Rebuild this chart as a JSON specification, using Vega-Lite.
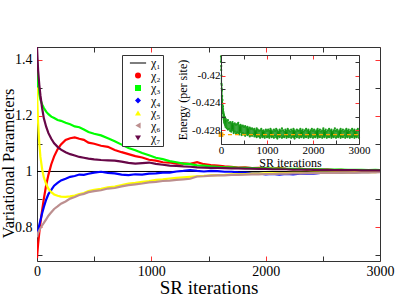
{
"$schema":"https://vega.github.io/schema/vega-lite/v6.json",
"width":343,"height":214,
"autosize":{"type":"none"},
"padding":{"left":37,"top":47,"right":19,"bottom":47},
"config":{"font":"Liberation Serif","view":{"stroke":null},"axis":{"grid":false,"domainColor":"#333333","domainWidth":1,"labelFont":"Liberation Serif","titleFont":"Liberation Serif","labelColor":"black","titleColor":"black","titleFontWeight":"normal","labelOverlap":false,"labelFlush":false,"labelBound":false},
"legend":{"labelFont":"Liberation Serif","strokeColor":"#333333","fillColor":"white","padding":2,"symbolSize":36,"symbolStrokeWidth":0,"labelFontSize":12,"rowPadding":0.5,"labelOffset":7,"symbolOffset":8,"symbolOpacity":1,"cornerRadius":0}},
"datasets":{
"chi1":[{"s":"χ₁","it":0,"v":1},{"s":"χ₁","it":3000,"v":1}],
"legend":[{"s":"χ₁"},{"s":"χ₂"},{"s":"χ₃"},{"s":"χ₄"},{"s":"χ₅"},{"s":"χ₆"},{"s":"χ₇"}],
"ref":[{"it":0,"e":-0.42863},{"it":3000,"e":-0.42863}],
"main":[
{"s":"χ₂","it":0,"v":0.690},{"s":"χ₂","it":5,"v":0.718},{"s":"χ₂","it":10,"v":0.742},{"s":"χ₂","it":20,"v":0.781},{"s":"χ₂","it":30,"v":0.816},{"s":"χ₂","it":45,"v":0.862},{"s":"χ₂","it":60,"v":0.903},{"s":"χ₂","it":80,"v":0.951},{"s":"χ₂","it":100,"v":0.988},{"s":"χ₂","it":125,"v":1.026},{"s":"χ₂","it":150,"v":1.054},{"s":"χ₂","it":180,"v":1.079},{"s":"χ₂","it":210,"v":1.097},{"s":"χ₂","it":250,"v":1.113},{"s":"χ₂","it":290,"v":1.119},{"s":"χ₂","it":330,"v":1.122},{"s":"χ₂","it":370,"v":1.117},{"s":"χ₂","it":410,"v":1.113},{"s":"χ₂","it":450,"v":1.103},{"s":"χ₂","it":500,"v":1.099},{"s":"χ₂","it":560,"v":1.092},{"s":"χ₂","it":620,"v":1.088},{"s":"χ₂","it":680,"v":1.077},{"s":"χ₂","it":740,"v":1.069},{"s":"χ₂","it":800,"v":1.062},{"s":"χ₂","it":860,"v":1.055},{"s":"χ₂","it":920,"v":1.050},{"s":"χ₂","it":980,"v":1.042},{"s":"χ₂","it":1040,"v":1.039},{"s":"χ₂","it":1100,"v":1.033},{"s":"χ₂","it":1160,"v":1.032},{"s":"χ₂","it":1220,"v":1.028},{"s":"χ₂","it":1280,"v":1.029},{"s":"χ₂","it":1340,"v":1.027},{"s":"χ₂","it":1400,"v":1.033},{"s":"χ₂","it":1460,"v":1.026},{"s":"χ₂","it":1520,"v":1.023},{"s":"χ₂","it":1580,"v":1.021},{"s":"χ₂","it":1640,"v":1.018},{"s":"χ₂","it":1700,"v":1.017},{"s":"χ₂","it":1760,"v":1.014},{"s":"χ₂","it":1820,"v":1.015},{"s":"χ₂","it":1880,"v":1.012},{"s":"χ₂","it":1940,"v":1.013},{"s":"χ₂","it":2000,"v":1.011},{"s":"χ₂","it":2060,"v":1.010},{"s":"χ₂","it":2120,"v":1.012},{"s":"χ₂","it":2180,"v":1.009},{"s":"χ₂","it":2240,"v":1.008},{"s":"χ₂","it":2300,"v":1.010},{"s":"χ₂","it":2360,"v":1.007},{"s":"χ₂","it":2420,"v":1.008},{"s":"χ₂","it":2480,"v":1.006},{"s":"χ₂","it":2540,"v":1.007},{"s":"χ₂","it":2600,"v":1.005},{"s":"χ₂","it":2660,"v":1.006},{"s":"χ₂","it":2720,"v":1.004},{"s":"χ₂","it":2780,"v":1.005},{"s":"χ₂","it":2840,"v":1.003},{"s":"χ₂","it":2900,"v":1.004},{"s":"χ₂","it":2960,"v":1.003},{"s":"χ₂","it":3000,"v":1.003},
{"s":"χ₃","it":0,"v":1.400},{"s":"χ₃","it":5,"v":1.345},{"s":"χ₃","it":10,"v":1.305},{"s":"χ₃","it":20,"v":1.276},{"s":"χ₃","it":30,"v":1.257},{"s":"χ₃","it":45,"v":1.240},{"s":"χ₃","it":60,"v":1.227},{"s":"χ₃","it":80,"v":1.214},{"s":"χ₃","it":100,"v":1.205},{"s":"χ₃","it":125,"v":1.196},{"s":"χ₃","it":150,"v":1.191},{"s":"χ₃","it":180,"v":1.184},{"s":"χ₃","it":210,"v":1.181},{"s":"χ₃","it":250,"v":1.174},{"s":"χ₃","it":290,"v":1.169},{"s":"χ₃","it":330,"v":1.161},{"s":"χ₃","it":370,"v":1.158},{"s":"χ₃","it":410,"v":1.150},{"s":"χ₃","it":450,"v":1.141},{"s":"χ₃","it":500,"v":1.135},{"s":"χ₃","it":560,"v":1.129},{"s":"χ₃","it":620,"v":1.119},{"s":"χ₃","it":680,"v":1.108},{"s":"χ₃","it":740,"v":1.096},{"s":"χ₃","it":800,"v":1.084},{"s":"χ₃","it":860,"v":1.076},{"s":"χ₃","it":920,"v":1.066},{"s":"χ₃","it":980,"v":1.058},{"s":"χ₃","it":1040,"v":1.049},{"s":"χ₃","it":1100,"v":1.044},{"s":"χ₃","it":1160,"v":1.037},{"s":"χ₃","it":1220,"v":1.033},{"s":"χ₃","it":1280,"v":1.028},{"s":"χ₃","it":1340,"v":1.026},{"s":"χ₃","it":1400,"v":1.022},{"s":"χ₃","it":1460,"v":1.021},{"s":"χ₃","it":1520,"v":1.018},{"s":"χ₃","it":1580,"v":1.017},{"s":"χ₃","it":1640,"v":1.015},{"s":"χ₃","it":1700,"v":1.015},{"s":"χ₃","it":1760,"v":1.013},{"s":"χ₃","it":1820,"v":1.013},{"s":"χ₃","it":1880,"v":1.012},{"s":"χ₃","it":1940,"v":1.011},{"s":"χ₃","it":2000,"v":1.011},{"s":"χ₃","it":2060,"v":1.010},{"s":"χ₃","it":2120,"v":1.010},{"s":"χ₃","it":2180,"v":1.009},{"s":"χ₃","it":2240,"v":1.009},{"s":"χ₃","it":2300,"v":1.009},{"s":"χ₃","it":2360,"v":1.008},{"s":"χ₃","it":2420,"v":1.008},{"s":"χ₃","it":2480,"v":1.008},{"s":"χ₃","it":2540,"v":1.007},{"s":"χ₃","it":2600,"v":1.007},{"s":"χ₃","it":2660,"v":1.007},{"s":"χ₃","it":2720,"v":1.006},{"s":"χ₃","it":2780,"v":1.006},{"s":"χ₃","it":2840,"v":1.006},{"s":"χ₃","it":2900,"v":1.005},{"s":"χ₃","it":2960,"v":1.006},{"s":"χ₃","it":3000,"v":1.005},
{"s":"χ₄","it":0,"v":0.770},{"s":"χ₄","it":5,"v":0.779},{"s":"χ₄","it":10,"v":0.790},{"s":"χ₄","it":20,"v":0.809},{"s":"χ₄","it":30,"v":0.826},{"s":"χ₄","it":45,"v":0.851},{"s":"χ₄","it":60,"v":0.873},{"s":"χ₄","it":80,"v":0.899},{"s":"χ₄","it":100,"v":0.919},{"s":"χ₄","it":125,"v":0.934},{"s":"χ₄","it":150,"v":0.949},{"s":"χ₄","it":180,"v":0.959},{"s":"χ₄","it":210,"v":0.968},{"s":"χ₄","it":250,"v":0.974},{"s":"χ₄","it":290,"v":0.981},{"s":"χ₄","it":330,"v":0.984},{"s":"χ₄","it":370,"v":0.989},{"s":"χ₄","it":410,"v":0.988},{"s":"χ₄","it":450,"v":0.992},{"s":"χ₄","it":500,"v":0.996},{"s":"χ₄","it":560,"v":0.999},{"s":"χ₄","it":620,"v":0.995},{"s":"χ₄","it":680,"v":0.993},{"s":"χ₄","it":740,"v":0.989},{"s":"χ₄","it":800,"v":0.987},{"s":"χ₄","it":860,"v":0.990},{"s":"χ₄","it":920,"v":0.989},{"s":"χ₄","it":980,"v":0.992},{"s":"χ₄","it":1040,"v":0.993},{"s":"χ₄","it":1100,"v":0.996},{"s":"χ₄","it":1160,"v":0.996},{"s":"χ₄","it":1220,"v":1.000},{"s":"χ₄","it":1280,"v":1.002},{"s":"χ₄","it":1340,"v":1.005},{"s":"χ₄","it":1400,"v":1.002},{"s":"χ₄","it":1460,"v":1.000},{"s":"χ₄","it":1520,"v":1.002},{"s":"χ₄","it":1580,"v":1.001},{"s":"χ₄","it":1640,"v":0.999},{"s":"χ₄","it":1700,"v":0.999},{"s":"χ₄","it":1760,"v":0.997},{"s":"χ₄","it":1820,"v":0.996},{"s":"χ₄","it":1880,"v":0.993},{"s":"χ₄","it":1940,"v":0.993},{"s":"χ₄","it":2000,"v":0.990},{"s":"χ₄","it":2060,"v":0.991},{"s":"χ₄","it":2120,"v":0.989},{"s":"χ₄","it":2180,"v":0.991},{"s":"χ₄","it":2240,"v":0.990},{"s":"χ₄","it":2300,"v":0.992},{"s":"χ₄","it":2360,"v":0.993},{"s":"χ₄","it":2420,"v":0.992},{"s":"χ₄","it":2480,"v":0.995},{"s":"χ₄","it":2540,"v":0.995},{"s":"χ₄","it":2600,"v":0.996},{"s":"χ₄","it":2660,"v":0.996},{"s":"χ₄","it":2720,"v":0.997},{"s":"χ₄","it":2780,"v":0.997},{"s":"χ₄","it":2840,"v":0.998},{"s":"χ₄","it":2900,"v":0.998},{"s":"χ₄","it":2960,"v":0.999},{"s":"χ₄","it":3000,"v":0.999},
{"s":"χ₅","it":0,"v":1.300},{"s":"χ₅","it":5,"v":1.225},{"s":"χ₅","it":10,"v":1.172},{"s":"χ₅","it":20,"v":1.100},{"s":"χ₅","it":30,"v":1.052},{"s":"χ₅","it":45,"v":1.008},{"s":"χ₅","it":60,"v":0.979},{"s":"χ₅","it":80,"v":0.955},{"s":"χ₅","it":100,"v":0.938},{"s":"χ₅","it":125,"v":0.926},{"s":"χ₅","it":150,"v":0.918},{"s":"χ₅","it":180,"v":0.913},{"s":"χ₅","it":210,"v":0.910},{"s":"χ₅","it":250,"v":0.909},{"s":"χ₅","it":290,"v":0.911},{"s":"χ₅","it":330,"v":0.914},{"s":"χ₅","it":370,"v":0.919},{"s":"χ₅","it":410,"v":0.923},{"s":"χ₅","it":450,"v":0.930},{"s":"χ₅","it":500,"v":0.934},{"s":"χ₅","it":560,"v":0.938},{"s":"χ₅","it":620,"v":0.943},{"s":"χ₅","it":680,"v":0.946},{"s":"χ₅","it":740,"v":0.951},{"s":"χ₅","it":800,"v":0.957},{"s":"χ₅","it":860,"v":0.959},{"s":"χ₅","it":920,"v":0.963},{"s":"χ₅","it":980,"v":0.966},{"s":"χ₅","it":1040,"v":0.970},{"s":"χ₅","it":1100,"v":0.972},{"s":"χ₅","it":1160,"v":0.975},{"s":"χ₅","it":1220,"v":0.977},{"s":"χ₅","it":1280,"v":0.979},{"s":"χ₅","it":1340,"v":0.981},{"s":"χ₅","it":1400,"v":0.983},{"s":"χ₅","it":1460,"v":0.984},{"s":"χ₅","it":1520,"v":0.986},{"s":"χ₅","it":1580,"v":0.987},{"s":"χ₅","it":1640,"v":0.988},{"s":"χ₅","it":1700,"v":0.990},{"s":"χ₅","it":1760,"v":0.990},{"s":"χ₅","it":1820,"v":0.991},{"s":"χ₅","it":1880,"v":0.992},{"s":"χ₅","it":1940,"v":0.992},{"s":"χ₅","it":2000,"v":0.993},{"s":"χ₅","it":2060,"v":0.993},{"s":"χ₅","it":2120,"v":0.994},{"s":"χ₅","it":2180,"v":0.994},{"s":"χ₅","it":2240,"v":0.995},{"s":"χ₅","it":2300,"v":0.995},{"s":"χ₅","it":2360,"v":0.995},{"s":"χ₅","it":2420,"v":0.996},{"s":"χ₅","it":2480,"v":0.996},{"s":"χ₅","it":2540,"v":0.996},{"s":"χ₅","it":2600,"v":0.997},{"s":"χ₅","it":2660,"v":0.997},{"s":"χ₅","it":2720,"v":0.997},{"s":"χ₅","it":2780,"v":0.998},{"s":"χ₅","it":2840,"v":0.998},{"s":"χ₅","it":2900,"v":0.998},{"s":"χ₅","it":2960,"v":0.998},{"s":"χ₅","it":3000,"v":0.999},
{"s":"χ₆","it":0,"v":0.765},{"s":"χ₆","it":5,"v":0.774},{"s":"χ₆","it":10,"v":0.781},{"s":"χ₆","it":20,"v":0.790},{"s":"χ₆","it":30,"v":0.797},{"s":"χ₆","it":45,"v":0.807},{"s":"χ₆","it":60,"v":0.816},{"s":"χ₆","it":80,"v":0.829},{"s":"χ₆","it":100,"v":0.842},{"s":"χ₆","it":125,"v":0.854},{"s":"χ₆","it":150,"v":0.866},{"s":"χ₆","it":180,"v":0.875},{"s":"χ₆","it":210,"v":0.885},{"s":"χ₆","it":250,"v":0.893},{"s":"χ₆","it":290,"v":0.903},{"s":"χ₆","it":330,"v":0.909},{"s":"χ₆","it":370,"v":0.916},{"s":"χ₆","it":410,"v":0.920},{"s":"χ₆","it":450,"v":0.926},{"s":"χ₆","it":500,"v":0.930},{"s":"χ₆","it":560,"v":0.933},{"s":"χ₆","it":620,"v":0.939},{"s":"χ₆","it":680,"v":0.941},{"s":"χ₆","it":740,"v":0.947},{"s":"χ₆","it":800,"v":0.951},{"s":"χ₆","it":860,"v":0.954},{"s":"χ₆","it":920,"v":0.957},{"s":"χ₆","it":980,"v":0.961},{"s":"χ₆","it":1040,"v":0.963},{"s":"χ₆","it":1100,"v":0.966},{"s":"χ₆","it":1160,"v":0.967},{"s":"χ₆","it":1220,"v":0.970},{"s":"χ₆","it":1280,"v":0.972},{"s":"χ₆","it":1340,"v":0.974},{"s":"χ₆","it":1400,"v":0.982},{"s":"χ₆","it":1460,"v":0.983},{"s":"χ₆","it":1520,"v":0.985},{"s":"χ₆","it":1580,"v":0.986},{"s":"χ₆","it":1640,"v":0.986},{"s":"χ₆","it":1700,"v":0.988},{"s":"χ₆","it":1760,"v":0.988},{"s":"χ₆","it":1820,"v":0.989},{"s":"χ₆","it":1880,"v":0.990},{"s":"χ₆","it":1940,"v":0.990},{"s":"χ₆","it":2000,"v":0.991},{"s":"χ₆","it":2060,"v":0.991},{"s":"χ₆","it":2120,"v":0.992},{"s":"χ₆","it":2180,"v":0.992},{"s":"χ₆","it":2240,"v":0.993},{"s":"χ₆","it":2300,"v":0.993},{"s":"χ₆","it":2360,"v":0.994},{"s":"χ₆","it":2420,"v":0.994},{"s":"χ₆","it":2480,"v":0.995},{"s":"χ₆","it":2540,"v":0.995},{"s":"χ₆","it":2600,"v":0.995},{"s":"χ₆","it":2660,"v":0.996},{"s":"χ₆","it":2720,"v":0.996},{"s":"χ₆","it":2780,"v":0.996},{"s":"χ₆","it":2840,"v":0.997},{"s":"χ₆","it":2900,"v":0.997},{"s":"χ₆","it":2960,"v":0.997},{"s":"χ₆","it":3000,"v":0.998},
{"s":"χ₇","it":0,"v":1.445},{"s":"χ₇","it":5,"v":1.400},{"s":"χ₇","it":10,"v":1.360},{"s":"χ₇","it":20,"v":1.310},{"s":"χ₇","it":30,"v":1.272},{"s":"χ₇","it":45,"v":1.226},{"s":"χ₇","it":60,"v":1.190},{"s":"χ₇","it":80,"v":1.160},{"s":"χ₇","it":100,"v":1.137},{"s":"χ₇","it":125,"v":1.117},{"s":"χ₇","it":150,"v":1.101},{"s":"χ₇","it":180,"v":1.088},{"s":"χ₇","it":210,"v":1.078},{"s":"χ₇","it":250,"v":1.069},{"s":"χ₇","it":290,"v":1.062},{"s":"χ₇","it":330,"v":1.057},{"s":"χ₇","it":370,"v":1.052},{"s":"χ₇","it":410,"v":1.049},{"s":"χ₇","it":450,"v":1.046},{"s":"χ₇","it":500,"v":1.043},{"s":"χ₇","it":560,"v":1.041},{"s":"χ₇","it":620,"v":1.040},{"s":"χ₇","it":680,"v":1.039},{"s":"χ₇","it":740,"v":1.035},{"s":"χ₇","it":800,"v":1.031},{"s":"χ₇","it":860,"v":1.028},{"s":"χ₇","it":920,"v":1.030},{"s":"χ₇","it":980,"v":1.032},{"s":"χ₇","it":1040,"v":1.027},{"s":"χ₇","it":1100,"v":1.024},{"s":"χ₇","it":1160,"v":1.021},{"s":"χ₇","it":1220,"v":1.020},{"s":"χ₇","it":1280,"v":1.018},{"s":"χ₇","it":1340,"v":1.017},{"s":"χ₇","it":1400,"v":1.015},{"s":"χ₇","it":1460,"v":1.014},{"s":"χ₇","it":1520,"v":1.013},{"s":"χ₇","it":1580,"v":1.013},{"s":"χ₇","it":1640,"v":1.012},{"s":"χ₇","it":1700,"v":1.011},{"s":"χ₇","it":1760,"v":1.011},{"s":"χ₇","it":1820,"v":1.010},{"s":"χ₇","it":1880,"v":1.010},{"s":"χ₇","it":1940,"v":1.009},{"s":"χ₇","it":2000,"v":1.009},{"s":"χ₇","it":2060,"v":1.008},{"s":"χ₇","it":2120,"v":1.008},{"s":"χ₇","it":2180,"v":1.008},{"s":"χ₇","it":2240,"v":1.007},{"s":"χ₇","it":2300,"v":1.007},{"s":"χ₇","it":2360,"v":1.007},{"s":"χ₇","it":2420,"v":1.006},{"s":"χ₇","it":2480,"v":1.006},{"s":"χ₇","it":2540,"v":1.006},{"s":"χ₇","it":2600,"v":1.005},{"s":"χ₇","it":2660,"v":1.005},{"s":"χ₇","it":2720,"v":1.005},{"s":"χ₇","it":2780,"v":1.005},{"s":"χ₇","it":2840,"v":1.004},{"s":"χ₇","it":2900,"v":1.004},{"s":"χ₇","it":2960,"v":1.004},{"s":"χ₇","it":3000,"v":1.004}
],
"energy":[
{"it":0,"lo":-0.4180,"hi":-0.4172},{"it":5,"lo":-0.4192,"hi":-0.4186},{"it":10,"lo":-0.4212,"hi":-0.4200},{"it":15,"lo":-0.4219,"hi":-0.4214},{"it":20,"lo":-0.4230,"hi":-0.4222},{"it":25,"lo":-0.4235,"hi":-0.4230},{"it":30,"lo":-0.4244,"hi":-0.4236},{"it":35,"lo":-0.4246,"hi":-0.4241},{"it":40,"lo":-0.4252,"hi":-0.4245},{"it":45,"lo":-0.4255,"hi":-0.4249},{"it":50,"lo":-0.4260,"hi":-0.4253},{"it":55,"lo":-0.4262,"hi":-0.4255},{"it":60,"lo":-0.4264,"hi":-0.4257},{"it":65,"lo":-0.4266,"hi":-0.4258},{"it":70,"lo":-0.4268,"hi":-0.4260},{"it":75,"lo":-0.4269,"hi":-0.4261},{"it":80,"lo":-0.4270,"hi":-0.4262},{"it":85,"lo":-0.4271,"hi":-0.4261},{"it":90,"lo":-0.4272,"hi":-0.4263},{"it":95,"lo":-0.4273,"hi":-0.4263},
{"it":100,"lo":-0.4275,"hi":-0.4264},{"it":125,"lo":-0.4277,"hi":-0.4266},{"it":150,"lo":-0.4279,"hi":-0.4265},{"it":175,"lo":-0.4278,"hi":-0.4269},{"it":200,"lo":-0.4281,"hi":-0.4268},{"it":225,"lo":-0.4282,"hi":-0.4270},{"it":250,"lo":-0.4280,"hi":-0.4268},{"it":275,"lo":-0.4284,"hi":-0.4271},{"it":300,"lo":-0.4282,"hi":-0.4270},{"it":325,"lo":-0.4285,"hi":-0.4272},{"it":350,"lo":-0.4283,"hi":-0.4271},{"it":375,"lo":-0.4284,"hi":-0.4269},{"it":400,"lo":-0.4286,"hi":-0.4273},{"it":425,"lo":-0.4283,"hi":-0.4272},{"it":450,"lo":-0.4287,"hi":-0.4274},{"it":475,"lo":-0.4284,"hi":-0.4273},{"it":500,"lo":-0.4286,"hi":-0.4275},{"it":525,"lo":-0.4288,"hi":-0.4274},{"it":550,"lo":-0.4285,"hi":-0.4276},{"it":575,"lo":-0.4287,"hi":-0.4275},{"it":600,"lo":-0.4286,"hi":-0.4277},{"it":625,"lo":-0.4289,"hi":-0.4276},{"it":650,"lo":-0.4287,"hi":-0.4278},{"it":675,"lo":-0.4288,"hi":-0.4277},{"it":700,"lo":-0.4286,"hi":-0.4279},{"it":725,"lo":-0.4289,"hi":-0.4278},{"it":750,"lo":-0.4288,"hi":-0.4280},{"it":775,"lo":-0.4290,"hi":-0.4277},{"it":800,"lo":-0.4288,"hi":-0.4279},{"it":825,"lo":-0.4289,"hi":-0.4281},{"it":850,"lo":-0.4291,"hi":-0.4280},{"it":875,"lo":-0.4288,"hi":-0.4278},{"it":900,"lo":-0.4290,"hi":-0.4281},{"it":925,"lo":-0.4289,"hi":-0.4280},{"it":950,"lo":-0.4291,"hi":-0.4282},{"it":975,"lo":-0.4288,"hi":-0.4279},{"it":1000,"lo":-0.4290,"hi":-0.4281},
{"it":1025,"lo":-0.4289,"hi":-0.4279},{"it":1050,"lo":-0.4291,"hi":-0.4281},{"it":1075,"lo":-0.4288,"hi":-0.4278},{"it":1100,"lo":-0.4290,"hi":-0.4280},{"it":1125,"lo":-0.4289,"hi":-0.4282},{"it":1150,"lo":-0.4291,"hi":-0.4279},{"it":1175,"lo":-0.4288,"hi":-0.4281},{"it":1200,"lo":-0.4290,"hi":-0.4278},{"it":1225,"lo":-0.4292,"hi":-0.4280},{"it":1250,"lo":-0.4289,"hi":-0.4282},{"it":1275,"lo":-0.4290,"hi":-0.4279},{"it":1300,"lo":-0.4288,"hi":-0.4281},{"it":1325,"lo":-0.4291,"hi":-0.4277},{"it":1350,"lo":-0.4289,"hi":-0.4280},{"it":1375,"lo":-0.4290,"hi":-0.4282},{"it":1400,"lo":-0.4288,"hi":-0.4279},{"it":1425,"lo":-0.4291,"hi":-0.4281},{"it":1450,"lo":-0.4289,"hi":-0.4278},{"it":1475,"lo":-0.4290,"hi":-0.4280},{"it":1500,"lo":-0.4288,"hi":-0.4282},{"it":1525,"lo":-0.4291,"hi":-0.4279},{"it":1550,"lo":-0.4289,"hi":-0.4281},{"it":1575,"lo":-0.4290,"hi":-0.4278},{"it":1600,"lo":-0.4292,"hi":-0.4280},{"it":1625,"lo":-0.4289,"hi":-0.4282},{"it":1650,"lo":-0.4290,"hi":-0.4279},{"it":1675,"lo":-0.4288,"hi":-0.4281},{"it":1700,"lo":-0.4291,"hi":-0.4280},{"it":1725,"lo":-0.4289,"hi":-0.4278},{"it":1750,"lo":-0.4290,"hi":-0.4281},{"it":1775,"lo":-0.4288,"hi":-0.4279},{"it":1800,"lo":-0.4291,"hi":-0.4282},{"it":1825,"lo":-0.4289,"hi":-0.4280},{"it":1850,"lo":-0.4290,"hi":-0.4278},{"it":1875,"lo":-0.4288,"hi":-0.4281},{"it":1900,"lo":-0.4291,"hi":-0.4279},{"it":1925,"lo":-0.4289,"hi":-0.4282},{"it":1950,"lo":-0.4290,"hi":-0.4280},{"it":1975,"lo":-0.4288,"hi":-0.4278},{"it":2000,"lo":-0.4291,"hi":-0.4281},{"it":2025,"lo":-0.4289,"hi":-0.4279},{"it":2050,"lo":-0.4290,"hi":-0.4282},{"it":2075,"lo":-0.4288,"hi":-0.4280},{"it":2100,"lo":-0.4291,"hi":-0.4278},{"it":2125,"lo":-0.4289,"hi":-0.4281},{"it":2150,"lo":-0.4290,"hi":-0.4279},{"it":2175,"lo":-0.4288,"hi":-0.4282},{"it":2200,"lo":-0.4291,"hi":-0.4280},{"it":2225,"lo":-0.4289,"hi":-0.4277},{"it":2250,"lo":-0.4290,"hi":-0.4281},{"it":2275,"lo":-0.4288,"hi":-0.4279},{"it":2300,"lo":-0.4291,"hi":-0.4282},{"it":2325,"lo":-0.4289,"hi":-0.4280},{"it":2350,"lo":-0.4290,"hi":-0.4278},{"it":2375,"lo":-0.4288,"hi":-0.4281},{"it":2400,"lo":-0.4291,"hi":-0.4279},{"it":2425,"lo":-0.4289,"hi":-0.4282},{"it":2450,"lo":-0.4290,"hi":-0.4280},{"it":2475,"lo":-0.4288,"hi":-0.4277},{"it":2500,"lo":-0.4291,"hi":-0.4281},{"it":2525,"lo":-0.4289,"hi":-0.4279},{"it":2550,"lo":-0.4290,"hi":-0.4282},{"it":2575,"lo":-0.4288,"hi":-0.4280},{"it":2600,"lo":-0.4291,"hi":-0.4278},{"it":2625,"lo":-0.4289,"hi":-0.4281},{"it":2650,"lo":-0.4290,"hi":-0.4279},{"it":2675,"lo":-0.4288,"hi":-0.4282},{"it":2700,"lo":-0.4291,"hi":-0.4280},{"it":2725,"lo":-0.4289,"hi":-0.4278},{"it":2750,"lo":-0.4290,"hi":-0.4281},{"it":2775,"lo":-0.4288,"hi":-0.4279},{"it":2800,"lo":-0.4291,"hi":-0.4282},{"it":2825,"lo":-0.4289,"hi":-0.4280},{"it":2850,"lo":-0.4290,"hi":-0.4278},{"it":2875,"lo":-0.4288,"hi":-0.4281},{"it":2900,"lo":-0.4291,"hi":-0.4279},{"it":2925,"lo":-0.4289,"hi":-0.4282},{"it":2950,"lo":-0.4290,"hi":-0.4280},{"it":2975,"lo":-0.4288,"hi":-0.4278},{"it":3000,"lo":-0.4291,"hi":-0.4281}
]},
"layer":[
{"layer":[
{"data":{"name":"chi1"},"mark":{"type":"line","color":"black","strokeWidth":1},
"encoding":{
"x":{"field":"it","type":"quantitative","scale":{"domain":[0,3000],"nice":false},
"axis":{"orient":"bottom","values":[0,500,1000,1500,2000,2500,3000],"labelExpr":"datum.value % 1000 == 0 ? toString(datum.value) : ''","labelFontSize":14,"labelPadding":8,"tickSize":-5,"tickColor":{"condition":{"test":"datum.value % 1000 == 0","value":"#ff3333"},"value":"#333333"},"title":"SR iterations","titleFontSize":19,"titlePadding":0}},
"y":{"field":"v","type":"quantitative","scale":{"domain":[0.68,1.445],"nice":false,"zero":false},
"axis":{"orient":"left","values":[0.7,0.8,0.9,1,1.1,1.2,1.3,1.4],"labelExpr":"indexof([0.8,1,1.2,1.4], datum.value) >= 0 ? toString(datum.value) : ''","labelFontSize":14,"labelPadding":10,"tickSize":-5,"tickColor":{"condition":{"test":"indexof([0.8,1,1.2,1.4], datum.value) >= 0","value":"#ff3333"},"value":"#333333"},"title":"Variational Parameters","titleFontSize":16.5,"titleX":-24,"titleY":116,"titleBaseline":"alphabetic","titleAngle":270,"titleAlign":"center"}}}},
{"data":{"name":"main"},"mark":{"type":"line","strokeWidth":2.2,"clip":true},
"encoding":{
"x":{"field":"it","type":"quantitative","scale":{"domain":[0,3000],"nice":false},
"axis":{"orient":"top","values":[0,500,1000,1500,2000,2500,3000],"labels":false,"tickSize":-5,"tickColor":{"condition":{"test":"datum.value % 1000 == 0","value":"#ff3333"},"value":"#333333"},"title":null}},
"y":{"field":"v","type":"quantitative","scale":{"domain":[0.68,1.445],"nice":false,"zero":false},
"axis":{"orient":"right","values":[0.7,0.8,0.9,1,1.1,1.2,1.3,1.4],"labels":false,"tickSize":-5,"tickColor":{"condition":{"test":"indexof([0.8,1,1.2,1.4], datum.value) >= 0","value":"#ff3333"},"value":"#333333"},"title":null}},
"stroke":{"field":"s","type":"nominal","scale":{"domain":["χ₂","χ₃","χ₄","χ₅","χ₆","χ₇"],"range":["#ff0000","#00ff00","#0000ff","#ffff00","#bc8f8f","#670748"]},"legend":null}}},
{"data":{"name":"legend"},"mark":{"type":"point","filled":true,"opacity":0},
"encoding":{
"color":{"field":"s","type":"nominal","scale":{"domain":["χ₁","χ₂","χ₃","χ₄","χ₅","χ₆","χ₇"],"range":["#000000","#ff0000","#00ff00","#0000ff","#ffff00","#bc8f8f","#670748"]},"legend":{"orient":"none","legendX":85,"legendY":8,"title":null}},
"shape":{"field":"s","type":"nominal","scale":{"domain":["χ₁","χ₂","χ₃","χ₄","χ₅","χ₆","χ₇"],"range":["M-2.7,-0.17H2.7V0.17H-2.7Z","circle","square","diamond","triangle-up","triangle-left","triangle-down"]},"legend":{"orient":"none","legendX":85,"legendY":8,"title":null}}}}
],"resolve":{"axis":{"x":"independent","y":"independent"}}},
{"layer":[
{"data":{"name":"energy"},"mark":{"type":"rule","color":"#0a8f0a","strokeWidth":1.2},
"encoding":{
"x":{"field":"it","type":"quantitative","scale":{"domain":[0,3000],"nice":false,"range":[184,322]},
"axis":{"orient":"bottom","offset":-117,"values":[0,500,1000,1500,2000,2500,3000],"labelExpr":"datum.value % 1000 == 0 ? toString(datum.value) : ''","labelFontSize":11,"labelPadding":4,"tickSize":-4,"tickColor":{"condition":{"test":"datum.value % 1000 == 0","value":"#ff3333"},"value":"#333333"},"title":"SR iterations","titleFontSize":12,"titlePadding":2,"zindex":1}},
"y":{"field":"lo","type":"quantitative","scale":{"domain":[-0.43,-0.417],"nice":false,"zero":false,"range":[97,8]},
"axis":{"orient":"left","offset":-184,"values":[-0.43,-0.428,-0.426,-0.424,-0.422,-0.42,-0.418],"labelExpr":"indexof([-0.42,-0.424,-0.428], datum.value) >= 0 ? toString(datum.value) : ''","labelFontSize":11,"labelPadding":5,"tickSize":-4,"tickColor":{"condition":{"test":"indexof([-0.42,-0.424,-0.428], datum.value) >= 0","value":"#ff3333"},"value":"#333333"},"title":"Energy (per site)","titleFontSize":12,"titlePadding":2,"zindex":1}},
"y2":{"field":"hi"}}},
{"data":{"name":"energy"},"transform":[{"fold":["lo","hi"],"as":["k","e"]}],"mark":{"type":"point","filled":true,"size":5,"color":"#1c9c1c","opacity":1},
"encoding":{
"x":{"field":"it","type":"quantitative","scale":{"domain":[0,3000],"nice":false,"range":[184,322]},
"axis":{"orient":"top","offset":-8,"values":[0,500,1000,1500,2000,2500,3000],"labels":false,"tickSize":-4,"tickColor":{"condition":{"test":"datum.value % 1000 == 0","value":"#ff3333"},"value":"#333333"},"title":null,"zindex":1}},
"y":{"field":"e","type":"quantitative","scale":{"domain":[-0.43,-0.417],"nice":false,"zero":false,"range":[97,8]},
"axis":{"orient":"right","offset":-21,"values":[-0.43,-0.428,-0.426,-0.424,-0.422,-0.42,-0.418],"labels":false,"tickSize":-4,"tickColor":{"condition":{"test":"indexof([-0.42,-0.424,-0.428], datum.value) >= 0","value":"#ff3333"},"value":"#333333"},"title":null,"zindex":1}}}},
{"data":{"name":"ref"},"mark":{"type":"line","color":"#ffa500","strokeWidth":1.3,"strokeDash":[4,3]},
"encoding":{
"x":{"field":"it","type":"quantitative","scale":{"domain":[0,3000],"nice":false,"range":[184,322]},"axis":null},
"y":{"field":"e","type":"quantitative","scale":{"domain":[-0.43,-0.417],"nice":false,"zero":false,"range":[97,8]},"axis":null}}},
{"data":{"name":"ref"},"transform":[{"filter":"datum.it == 0"}],"mark":{"type":"square","color":"#ffa500","size":22,"opacity":1},
"encoding":{
"x":{"field":"it","type":"quantitative","scale":{"domain":[0,3000],"nice":false,"range":[184,322]},"axis":null},
"y":{"field":"e","type":"quantitative","scale":{"domain":[-0.43,-0.417],"nice":false,"zero":false,"range":[97,8]},"axis":null}}}
],"resolve":{"axis":{"x":"independent","y":"independent"}}}
],
"resolve":{"scale":{"x":"independent","y":"independent"}}
}
